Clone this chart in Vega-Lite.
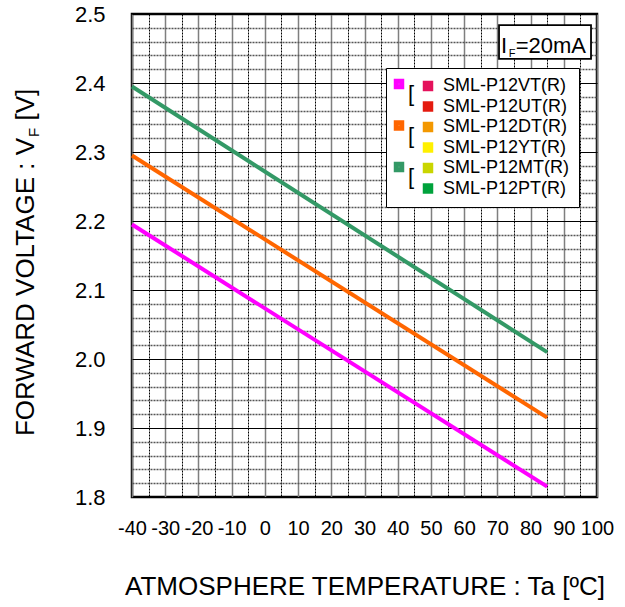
{
  "$schema": "https://vega.github.io/schema/vega-lite/v6.json",
  "width": 465,
  "height": 483,
  "autosize": {"type": "none"},
  "padding": {"left": 132, "top": 14, "right": 28, "bottom": 110},
  "background": "white",
  "config": {
    "font": "Liberation Sans",
    "view": {"stroke": "#000", "strokeWidth": 2.5},
    "axis": {"domain": false, "ticks": false, "tickSize": 0, "labelColor": "#000", "labelFont": "Liberation Sans", "titleFont": "Liberation Sans", "titleColor": "#000", "titleFontWeight": "normal"},
    "legend": {"labelFont": "Liberation Sans", "labelColor": "#000"}
  },
  "datasets": {
    "lines": [
      {"temp": -40, "vf": 2.195, "group": "VT/UT"},
      {"temp": 85, "vf": 1.815, "group": "VT/UT"},
      {"temp": -40, "vf": 2.295, "group": "DT/YT"},
      {"temp": 85, "vf": 1.915, "group": "DT/YT"},
      {"temp": -40, "vf": 2.395, "group": "MT/PT"},
      {"temp": 85, "vf": 2.01, "group": "MT/PT"}
    ],
    "products": [
      {"product": "SML-P12VT(R)"},
      {"product": "SML-P12UT(R)"},
      {"product": "SML-P12DT(R)"},
      {"product": "SML-P12YT(R)"},
      {"product": "SML-P12MT(R)"},
      {"product": "SML-P12PT(R)"}
    ],
    "one": [{"note": "annotation"}]
  },
  "data": {"name": "lines"},
  "layer": [
    {
      "mark": {"type": "line", "strokeWidth": 4},
      "encoding": {
        "x": {
          "field": "temp", "type": "quantitative",
          "scale": {"domain": [-40, 100], "nice": false, "zero": false},
          "axis": {
            "title": "ATMOSPHERE TEMPERATURE : Ta [ºC]",
            "titleFontSize": 26,
            "titlePadding": 35,
            "values": [-40,-35,-30,-25,-20,-15,-10,-5,0,5,10,15,20,25,30,35,40,45,50,55,60,65,70,75,80,85,90,95,100],
            "tickCount": 100,
            "labelExpr": "datum.value % 10 === 0 ? replace(datum.label, '\u2212', '-') : ''",
            "labelFontSize": 20,
            "labelPadding": 21,
            "labelFlush": false,
            "labelOverlap": false,
            "grid": true,
            "gridOpacity": 1,
            "gridColor": {"condition": {"test": "datum.value % 10 === 0", "value": "#7f7f7f"}, "value": "#000000"},
            "gridWidth": {"condition": {"test": "datum.value % 10 === 0", "value": 1.5}, "value": 1},
            "gridDash": {"condition": {"test": "datum.value % 10 === 0", "value": []}, "value": [2, 1]}
          }
        },
        "y": {
          "field": "vf", "type": "quantitative",
          "scale": {"domain": [1.8, 2.5], "nice": false, "zero": false},
          "axis": {
            "title": null,
            "values": [1.8,1.82,1.84,1.86,1.88,1.9,1.92,1.94,1.96,1.98,2.0,2.02,2.04,2.06,2.08,2.1,2.12,2.14,2.16,2.18,2.2,2.22,2.24,2.26,2.28,2.3,2.32,2.34,2.36,2.38,2.4,2.42,2.44,2.46,2.48,2.5],
            "tickCount": 100,
            "labelExpr": "round(datum.value * 100) % 10 === 0 ? format(datum.value, '.1f') : ''",
            "labelFontSize": 22,
            "labelPadding": 27,
            "labelFlush": false,
            "labelOverlap": false,
            "grid": true,
            "gridOpacity": 1,
            "gridColor": {"condition": {"test": "round(datum.value * 100) % 10 === 0", "value": "#000000"}, "value": "#555555"},
            "gridWidth": {"condition": {"test": "round(datum.value * 100) % 10 === 0", "value": 1.2}, "value": 1.4},
            "gridDash": {"condition": {"test": "round(datum.value * 100) % 10 === 0", "value": []}, "value": [2, 1]}
          }
        },
        "color": {
          "field": "group", "type": "nominal",
          "scale": {"domain": ["VT/UT", "DT/YT", "MT/PT"], "range": ["#FF00FF", "#FF6600", "#339966"]},
          "legend": {
            "title": null,
            "orient": "none",
            "legendX": 256,
            "legendY": 59,
            "padding": 0,
            "symbolType": "square",
            "symbolSize": 30,
            "symbolStrokeWidth": 5,
            "labelExpr": "'['",
            "labelFontSize": 22,
            "labelBaseline": "top",
            "labelOffset": -2,
            "rowPadding": 7.5,
            "zindex": 1
          }
        }
      }
    },
    {
      "data": {"name": "products"},
      "mark": {"type": "square", "size": 0, "filled": true, "opacity": 1},
      "encoding": {
        "fill": {
          "field": "product", "type": "nominal",
          "scale": {
            "domain": ["SML-P12VT(R)", "SML-P12UT(R)", "SML-P12DT(R)", "SML-P12YT(R)", "SML-P12MT(R)", "SML-P12PT(R)"],
            "range": ["#E4125B", "#E41A0F", "#F39800", "#FFF000", "#C9D500", "#00A23C"]
          },
          "legend": {
            "title": null,
            "orient": "none",
            "legendX": 254,
            "legendY": 54,
            "padding": 9,
            "strokeColor": "#000",
            "fillColor": "#fff",
            "symbolType": "square",
            "symbolSize": 110,
            "symbolOffset": 24,
            "labelOffset": 6,
            "labelFontSize": 18,
            "labelLimit": 300,
            "rowPadding": 2.5,
            "zindex": 0
          }
        }
      }
    },
    {
      "data": {"name": "one"},
      "mark": {"type": "rect", "fill": "#fff", "stroke": "#000", "strokeWidth": 1.8},
      "encoding": {
        "x": {"datum": 70.5, "type": "quantitative"},
        "x2": {"datum": 98.2},
        "y": {"datum": 2.484, "type": "quantitative"},
        "y2": {"datum": 2.435}
      }
    },
    {
      "data": {"name": "one"},
      "mark": {"type": "text", "text": "I", "fontSize": 22, "align": "left", "baseline": "alphabetic", "color": "#000"},
      "encoding": {"x": {"datum": 71.1, "type": "quantitative"}, "y": {"datum": 2.4435, "type": "quantitative"}}
    },
    {
      "data": {"name": "one"},
      "mark": {"type": "text", "text": "F", "fontSize": 11, "align": "left", "baseline": "alphabetic", "color": "#000"},
      "encoding": {"x": {"datum": 73.4, "type": "quantitative"}, "y": {"datum": 2.438, "type": "quantitative"}}
    },
    {
      "data": {"name": "one"},
      "mark": {"type": "text", "text": "=20mA", "fontSize": 22, "align": "left", "baseline": "alphabetic", "color": "#000"},
      "encoding": {"x": {"datum": 75.5, "type": "quantitative"}, "y": {"datum": 2.4435, "type": "quantitative"}}
    },
    {
      "data": {"name": "one"},
      "mark": {"type": "text", "text": "FORWARD VOLTAGE : V", "fontSize": 26, "angle": 270, "align": "right", "baseline": "alphabetic", "color": "#000"},
      "encoding": {"x": {"datum": -69.5, "type": "quantitative"}, "y": {"datum": 2.3203, "type": "quantitative"}}
    },
    {
      "data": {"name": "one"},
      "mark": {"type": "text", "text": "F", "fontSize": 15, "angle": 270, "align": "left", "baseline": "alphabetic", "dx": 1, "dy": 5, "color": "#000"},
      "encoding": {"x": {"datum": -69.5, "type": "quantitative"}, "y": {"datum": 2.3203, "type": "quantitative"}}
    },
    {
      "data": {"name": "one"},
      "mark": {"type": "text", "text": "[V]", "fontSize": 26, "angle": 270, "align": "left", "baseline": "alphabetic", "dx": 17.5, "color": "#000"},
      "encoding": {"x": {"datum": -69.5, "type": "quantitative"}, "y": {"datum": 2.3203, "type": "quantitative"}}
    }
  ]
}
